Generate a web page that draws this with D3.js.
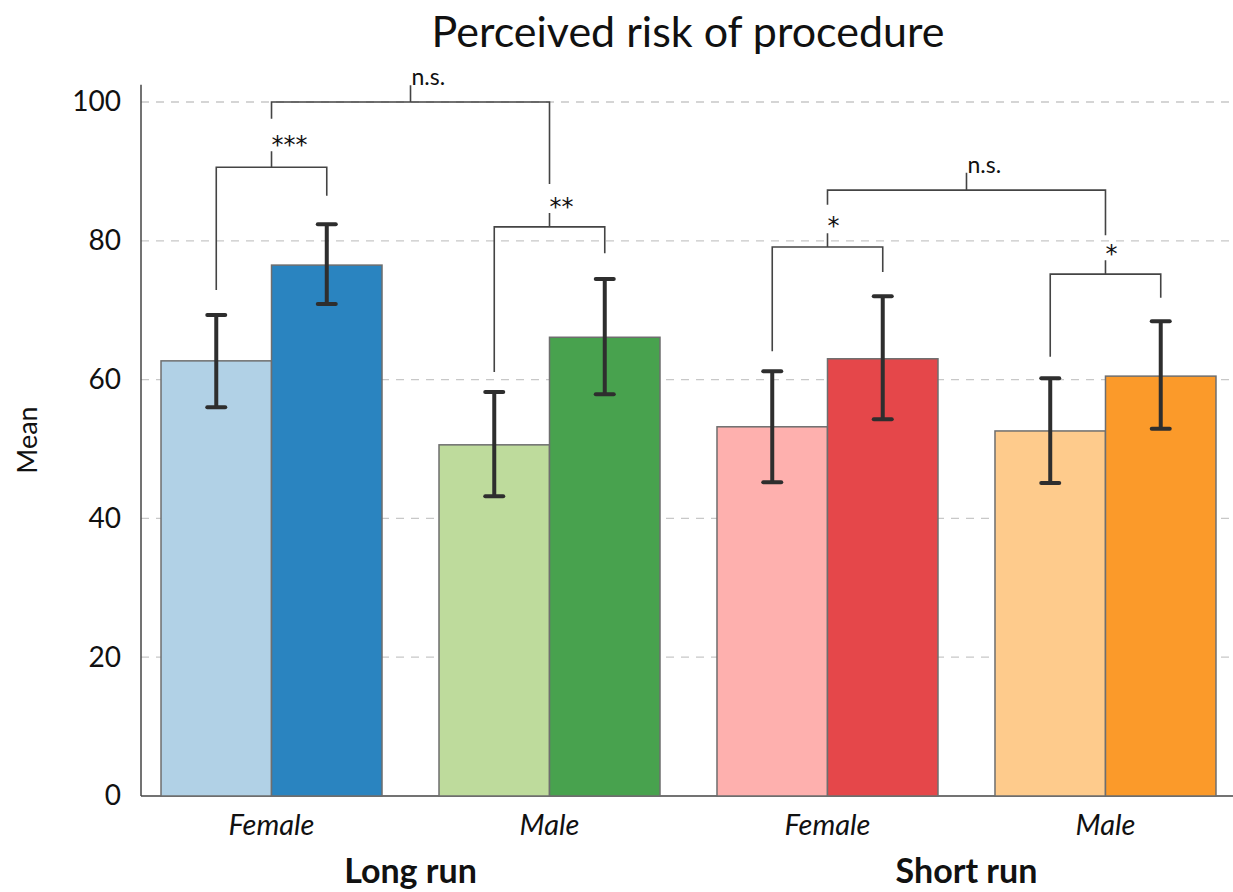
<!DOCTYPE html>
<html><head><meta charset="utf-8">
<script src="https://cdn.jsdelivr.net/npm/d3@7"></script>
<style>
body{margin:0;background:#fff;}
svg text{font-family:Lato,"Open Sans",sans-serif;fill:#111;}
</style></head>
<body><svg id="c" width="1233" height="892"></svg>
<script>
// ---- data ----
const title = "Perceived risk of procedure";
const yLabel = "Mean";
const categories = ["Female", "Male", "Female", "Male"];
const groups = ["Long run", "Short run"];
const groupOfCategory = [0, 0, 1, 1];
const yTicks = [0, 20, 40, 60, 80, 100];
// first (light) bar and second (dark) bar per category
const meanA = [62.7, 50.6, 53.2, 52.6];
const lowA  = [56.0, 43.2, 45.2, 45.1];
const highA = [69.3, 58.2, 61.2, 60.2];
const meanB = [76.5, 66.1, 63.0, 60.5];
const lowB  = [70.9, 57.9, 54.3, 52.9];
const highB = [82.4, 74.5, 72.0, 68.4];
const colorsA = ["#b1d1e6", "#bedb9c", "#feb0ae", "#fecb8c"];
const colorsB = ["#2a84c0", "#48a24e", "#e5474a", "#fb9a2a"];
// within-category comparisons: bracket level, leg ends, tick top, label centre
const pairLevel = [90.6, 82.0, 79.1, 75.2];
const pairLeftEnd = [72.9, 61.1, 64.1, 63.3];
const pairRightEnd = [86.5, 78.2, 75.5, 71.8];
const pairTick = [92.9, 84.0, 81.1, 77.2];
const pairLabelY = [94.8, 85.9, 83.1, 79.1];
const pairLabels = ["***", "**", "*", "*"];
// between-category comparisons (Female vs Male within each run)
const grpLevel = [100, 87.3];
const grpLeftEnd = [97.6, 85.2];
const grpRightEnd = [88.2, 80.8];
const grpTick = [102.4, 89.8];
const grpLabels = ["n.s.", "n.s."];

// ---- layout ----
const svg = d3.select("#c");
const W = 1233;
const x = d3.scaleBand().domain(d3.range(categories.length)).range([141, 1236])
  .paddingInner(0.205).paddingOuter(0.072);
const xi = d3.scaleBand().domain(["A", "B"]).range([0, x.bandwidth()]);
const y = d3.scaleLinear().domain([0, 100]).range([796, 102]);

// gridlines
svg.append("g").selectAll("line").data(yTicks.filter(d => d > 0)).join("line")
  .attr("x1", 141).attr("x2", W).attr("y1", d => y(d)).attr("y2", d => y(d))
  .attr("stroke", "#c8c8c8").attr("stroke-width", 1.3).attr("stroke-dasharray", "8,7");

// y axis
const yAxis = svg.append("g").attr("transform", "translate(141,0)")
  .call(d3.axisLeft(y).tickValues(yTicks).tickSize(0).tickPadding(20));
yAxis.select(".domain").remove();
yAxis.selectAll("text").style("font-size", "28px").attr("fill", "#111");
svg.append("line").attr("x1", 141).attr("x2", 141).attr("y1", y(0)).attr("y2", y(102.5))
  .attr("stroke", "#444").attr("stroke-width", 1.5);
svg.append("line").attr("x1", 141).attr("x2", W).attr("y1", y(0)).attr("y2", y(0))
  .attr("stroke", "#444").attr("stroke-width", 1.5);

// bars
const rows = categories.map((c, i) => [
  {i, k: "A", v: meanA[i], lo: lowA[i], hi: highA[i], col: colorsA[i]},
  {i, k: "B", v: meanB[i], lo: lowB[i], hi: highB[i], col: colorsB[i]}
]).flat();
svg.append("g").selectAll("rect").data(rows).join("rect")
  .attr("x", d => x(d.i) + xi(d.k)).attr("width", xi.bandwidth())
  .attr("y", d => y(d.v)).attr("height", d => y(0) - y(d.v))
  .attr("fill", d => d.col).attr("stroke", "#6e6e6e").attr("stroke-width", 1.5);

// error bars
const cx = d => x(d.i) + xi(d.k) + xi.bandwidth() / 2;
const eg = svg.append("g").attr("stroke", "#2e2e2e").attr("stroke-width", 4);
eg.selectAll(".v").data(rows).join("line").attr("x1", cx).attr("x2", cx)
  .attr("y1", d => y(d.lo)).attr("y2", d => y(d.hi));
eg.selectAll(".t").data(rows).join("line").attr("x1", d => cx(d) - 9).attr("x2", d => cx(d) + 9)
  .attr("y1", d => y(d.hi)).attr("y2", d => y(d.hi)).attr("stroke-linecap", "round");
eg.selectAll(".b").data(rows).join("line").attr("x1", d => cx(d) - 9).attr("x2", d => cx(d) + 9)
  .attr("y1", d => y(d.lo)).attr("y2", d => y(d.lo)).attr("stroke-linecap", "round");

// brackets
const bg = svg.append("g").attr("fill", "none").attr("stroke", "#444").attr("stroke-width", 1.6);
const mid = i => x(i) + x.bandwidth() / 2;
categories.forEach((c, i) => {
  const xl = cx({i, k: "A"}), xr = cx({i, k: "B"}), xm = mid(i);
  bg.append("path").attr("d",
    `M${xl},${y(pairLeftEnd[i])}V${y(pairLevel[i])}H${xr}V${y(pairRightEnd[i])}M${xm},${y(pairLevel[i])}V${y(pairTick[i])}`);
  svg.append("text").attr("x", xm).attr("y", y(pairLabelY[i])).attr("dy", "0.62em")
    .style("font-family", "'DejaVu Sans',sans-serif")
    .style("font-size", "24px").attr("fill", "#4a4a55").text(pairLabels[i]);
});
groups.forEach((g, gi) => {
  const idx = groupOfCategory.map((v, k) => v === gi ? k : -1).filter(k => k >= 0);
  const xl = mid(idx[0]), xr = mid(idx[1]), xm = (xl + xr) / 2;
  bg.append("path").attr("d",
    `M${xl},${y(grpLeftEnd[gi])}V${y(grpLevel[gi])}H${xr}V${y(grpRightEnd[gi])}M${xm},${y(grpLevel[gi])}V${y(grpTick[gi])}`);
  svg.append("text").attr("x", xm + 1).attr("y", y(grpTick[gi]))
    .style("font-size", "23px").attr("fill", "#222").text(grpLabels[gi]);
});

// category labels
svg.append("g").selectAll("text").data(categories).join("text")
  .attr("x", (d, i) => mid(i)).attr("y", 835).attr("text-anchor", "middle")
  .style("font-size", "29px").style("font-style", "italic").text(d => d);
// group labels
groups.forEach((g, gi) => {
  const idx = groupOfCategory.map((v, k) => v === gi ? k : -1).filter(k => k >= 0);
  const xm = (x(idx[0]) + x(idx[idx.length - 1]) + x.bandwidth()) / 2;
  svg.append("text").attr("x", xm).attr("y", 883).attr("text-anchor", "middle")
    .style("font-size", "34px").style("font-weight", "bold").text(g);
});
// title
svg.append("text").attr("x", 688).attr("y", 47).attr("text-anchor", "middle")
  .style("font-size", "43px").text(title);
// y label
svg.append("text").attr("transform", "translate(37,440) rotate(-90)").attr("text-anchor", "middle")
  .style("font-size", "27px").text(yLabel);
</script></body></html>
